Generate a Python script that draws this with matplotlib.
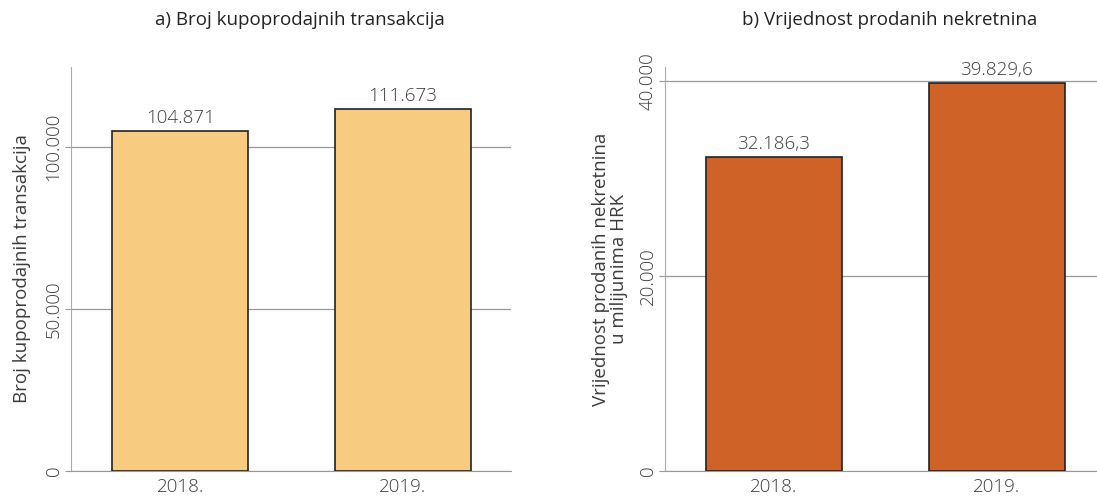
import numpy as np
import matplotlib.pyplot as plt
from matplotlib.ticker import FuncFormatter

# podaci
godine = ['2018.', '2019.']
broj_transakcija = [104871, 111673]
vrijednost_mil_hrk = [32186.3, 39829.6]

plt.rcParams['font.family'] = ['Open Sans', 'DejaVu Sans']
plt.rcParams['font.weight'] = 'light'


def hr_broj(v, dec=0):
    s = f"{v:,.{dec}f}"
    return s.replace(',', 'X').replace('.', ',').replace('X', '.')


fig = plt.figure(figsize=(10.97, 4.99), dpi=100)
ax1 = fig.add_axes([0.0647, 0.0561, 0.4011, 0.8096])
ax2 = fig.add_axes([0.6062, 0.0561, 0.3938, 0.8096])

txt = '#3c3c3c'
grid_c = '#999999'
fs = 13.5


def stil(ax, ylim, yticks, xlim):
    ax.set_xlim(*xlim)
    ax.set_ylim(*ylim)
    ax.set_yticks(yticks)
    ax.yaxis.set_major_formatter(FuncFormatter(lambda v, p: hr_broj(v)))
    ax.grid(axis='y', color=grid_c, linewidth=0.9, zorder=0)
    ax.set_axisbelow(True)
    for s in ['top', 'right']:
        ax.spines[s].set_visible(False)
    ax.spines['left'].set_color('#aaaaaa')
    ax.spines['bottom'].set_color(grid_c)
    ax.tick_params(axis='y', length=4, color=grid_c, labelsize=fs,
                   labelcolor=txt, pad=2)
    ax.tick_params(axis='x', length=0, labelsize=fs, labelcolor=txt, pad=5)
    for lab in ax.get_yticklabels():
        lab.set_rotation(90)
        lab.set_va('center')


x = np.arange(len(godine))

ax1.bar(x, broj_transakcija, width=0.61, color='#F8CC80',
        edgecolor='#222222', linewidth=1.2, zorder=3)
ax1.set_xticks(x, godine)
stil(ax1, (0, 124700), [0, 50000, 100000], (-0.49, 1.485))
for xi, v in zip(x, broj_transakcija):
    ax1.annotate(hr_broj(v), (xi, v), xytext=(0, 3), textcoords='offset points',
                 ha='center', va='bottom', fontsize=fs, color=txt)
ax1.set_title('a) Broj kupoprodajnih transakcija', fontsize=fs, weight='normal',
              color='#222222', x=0.52, pad=30)
ax1.set_ylabel('Broj kupoprodajnih transakcija', fontsize=fs, color=txt, labelpad=10)

ax2.bar(x, vrijednost_mil_hrk, width=0.61, color='#CF6327',
        edgecolor='#222222', linewidth=1.2, zorder=3)
ax2.set_xticks(x, godine)
stil(ax2, (0, 41440), [0, 20000, 40000], (-0.49, 1.45))
for xi, v in zip(x, vrijednost_mil_hrk):
    ax2.annotate(hr_broj(v, 1), (xi, v), xytext=(0, 3), textcoords='offset points',
                 ha='center', va='bottom', fontsize=fs, color=txt)
ax2.set_title('b) Vrijednost prodanih nekretnina', fontsize=fs, weight='normal',
              color='#222222', x=0.52, pad=30)
ax2.set_ylabel('Vrijednost prodanih nekretnina\nu milijunima HRK', fontsize=fs,
               color=txt, labelpad=8, linespacing=1.0)

fig.savefig('out.png', dpi=100)
